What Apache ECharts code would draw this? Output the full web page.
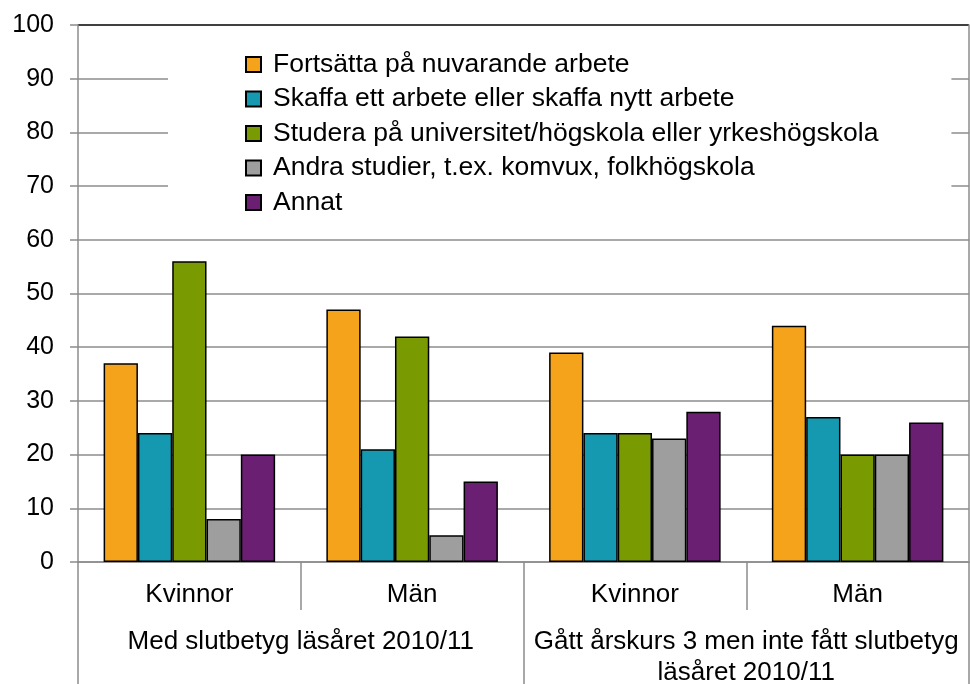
<!DOCTYPE html>
<html>
<head>
<meta charset="utf-8">
<script src="https://cdn.jsdelivr.net/npm/echarts@6/dist/echarts.min.js"></script>
<style>
  html, body { margin: 0; padding: 0; background: #fff; }
  #chart { width: 970px; height: 684px; }
</style>
</head>
<body>
<div id="chart"></div>
<script>
// data
const categories = ['Kvinnor', 'Män', 'Kvinnor', 'Män'];
const groups = ['Med slutbetyg läsåret 2010/11', 'Gått årskurs 3 men inte fått slutbetyg\nläsåret 2010/11'];
const seriesNames = [
  'Fortsätta på nuvarande arbete',
  'Skaffa ett arbete eller skaffa nytt arbete',
  'Studera på universitet/högskola eller yrkeshögskola',
  'Andra studier, t.ex. komvux, folkhögskola',
  'Annat'
];
const fortsatta = [37, 47, 39, 44];
const skaffa = [24, 21, 24, 27];
const studera = [56, 42, 24, 20];
const andra = [8, 5, 23, 20];
const annat = [20, 15, 28, 26];
const seriesValues = [fortsatta, skaffa, studera, andra, annat];
const colors = ['#F5A31B', '#1499B0', '#799A00', '#9E9E9E', '#6B1F72'];

const font = "'Liberation Sans', Arial, sans-serif";
const gray = '#8c8c8c';

// grid lines gray, the top one (100) black
const splitColors = [];
for (let i = 0; i < 10; i++) splitColors.push(gray);
splitColors.push('#000');

const chart = echarts.init(document.getElementById('chart'));
chart.setOption({
  animation: false,
  textStyle: { fontFamily: font, color: '#000' },
  grid: { left: 78, right: 1, top: 25, bottom: 122, containLabel: false, outerBoundsMode: 'none' },
  legend: {
    orient: 'vertical',
    left: 168,
    top: 39,
    padding: [12, 73, 12, 77],
    backgroundColor: '#fff',
    icon: 'rect',
    itemWidth: 15,
    itemHeight: 15,
    itemGap: 7.5,
    textStyle: { fontSize: 26.5, lineHeight: 26, color: '#000', fontFamily: font, padding: [0, 0, 0, 7] },
    data: seriesNames
  },
  xAxis: [{
    type: 'category',
    position: 'bottom',
    data: categories,
    axisLine: { show: true, lineStyle: { color: gray, width: 1.5 } },
    axisTick: { show: true, length: 48, lineStyle: { color: gray, width: 1.5 } },
    axisLabel: { interval: 0, fontSize: 26, color: '#000', margin: 20, fontFamily: font }
  }, {
    type: 'category',
    position: 'bottom',
    data: groups,
    axisLine: { show: false },
    axisTick: { show: true, length: 122, lineStyle: { color: gray, width: 1.5 } },
    axisLabel: { interval: 0, fontSize: 26, color: '#000', margin: 64, lineHeight: 31, fontFamily: font }
  }],
  yAxis: [{
    type: 'value',
    min: 0,
    max: 100,
    interval: 10,
    axisLine: { show: true, lineStyle: { color: gray, width: 1.5 } },
    axisTick: { show: true, length: 8, lineStyle: { color: gray, width: 1.5 } },
    axisLabel: { fontSize: 25, color: '#000', margin: 24, fontFamily: font },
    splitLine: { show: true, lineStyle: { color: splitColors, width: 1.5 } }
  }, {
    type: 'value',
    position: 'right',
    min: 0,
    max: 100,
    interval: 10,
    axisLine: { show: true, lineStyle: { color: gray, width: 1.5 } },
    axisTick: { show: false },
    axisLabel: { show: false },
    splitLine: { show: false }
  }],
  series: seriesNames.map((name, i) => ({
    name: name,
    type: 'bar',
    data: seriesValues[i],
    barGap: '0%',
    barCategoryGap: '23%',
    itemStyle: { color: colors[i], borderColor: '#000', borderWidth: 1.5 }
  }))
});
</script>
</body>
</html>
